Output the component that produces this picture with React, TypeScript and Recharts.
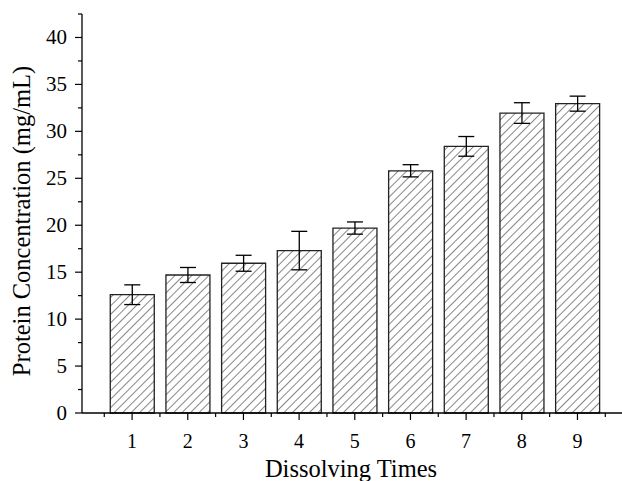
import React from "react";
import { ComposedChart, Bar, XAxis, YAxis, ErrorBar } from "recharts";

const times = [1, 2, 3, 4, 5, 6, 7, 8, 9];
const concentration = [12.6, 14.7, 15.95, 17.3, 19.7, 25.8, 28.4, 31.95, 32.95];
const errors = [1.05, 0.8, 0.85, 2.05, 0.65, 0.65, 1.05, 1.1, 0.8];
const xTicks = [0.5, 1, 1.5, 2, 2.5, 3, 3.5, 4, 4.5, 5, 5.5, 6, 6.5, 7, 7.5, 8, 8.5, 9, 9.5];
const yTicks = [0, 2.5, 5, 7.5, 10, 12.5, 15, 17.5, 20, 22.5, 25, 27.5, 30, 32.5, 35, 37.5, 40, 42.5];
const xTitle = "Dissolving Times";
const yTitle = "Protein Concentration (mg/mL)";

const data = times.map((t, i) => ({ x: t, y: concentration[i], err: errors[i] }));

const FONT = "'Liberation Serif', 'Times New Roman', serif";

const XTick = (props: any) => {
  const { x, y, payload } = props;
  const v = payload.value;
  const major = Number.isInteger(v);
  return (
    <g>
      <line x1={x} y1={y} x2={x} y2={y + (major ? 7 : 4)} stroke="#000" strokeWidth={1.2} />
      {major && (
        <text x={x} y={y + 35} textAnchor="middle" fontFamily={FONT} fontSize={20} fill="#000">
          {v}
        </text>
      )}
    </g>
  );
};

const YTick = (props: any) => {
  const { x, y, payload } = props;
  const v = payload.value;
  const major = v % 5 === 0;
  return (
    <g>
      <line x1={x} y1={y} x2={x - (major ? 7 : 4)} y2={y} stroke="#000" strokeWidth={1.2} />
      {major && (
        <text x={x - 15} y={y + 7} textAnchor="end" fontFamily={FONT} fontSize={21} fill="#000">
          {v}
        </text>
      )}
    </g>
  );
};

export default function App() {
  return (
    <div style={{ position: "absolute", left: 0, top: 0, width: 622, height: 481, background: "#fff" }}>
      <ComposedChart width={622} height={481} data={data} margin={{ top: 14, right: 0, bottom: 0, left: 0 }}>
        <defs>
          <pattern id="hatch" patternUnits="userSpaceOnUse" width={6} height={6} patternTransform="rotate(45)">
            <rect x={0} y={0} width={6} height={6} fill="#fff" />
            <line x1={0} y1={0} x2={0} y2={6} stroke="#222" strokeWidth={1.1} />
          </pattern>
        </defs>
        <XAxis
          dataKey="x"
          type="number"
          domain={[0.1, 9.8]}
          allowDataOverflow
          ticks={xTicks}
          interval={0}
          tick={<XTick />}
          tickLine={false}
          tickSize={0}
          tickMargin={0}
          axisLine={{ stroke: "#000", strokeWidth: 1.3 }}
          height={68}
        />
        <YAxis
          type="number"
          domain={[0, 42.5]}
          ticks={yTicks}
          interval={0}
          width={82}
          tick={<YTick />}
          tickLine={false}
          tickSize={0}
          tickMargin={0}
          axisLine={{ stroke: "#000", strokeWidth: 1.3 }}
        />
        <Bar dataKey="y" barSize={44} fill="url(#hatch)" stroke="#222" strokeWidth={1.3} isAnimationActive={false}>
          <ErrorBar dataKey="err" width={8} stroke="#000" strokeWidth={1.3} direction="y" />
        </Bar>
      </ComposedChart>
      <svg
        width={622}
        height={481}
        style={{ position: "absolute", left: 0, top: 0, pointerEvents: "none" }}
      >
        <text x={351} y={477} textAnchor="middle" fontFamily={FONT} fontSize={24.5} fill="#000">
          {xTitle}
        </text>
        <text
          x={30}
          y={221}
          transform="rotate(-90 30 221)"
          textAnchor="middle"
          fontFamily={FONT}
          fontSize={24.5}
          fill="#000"
        >
          {yTitle}
        </text>
      </svg>
    </div>
  );
}
